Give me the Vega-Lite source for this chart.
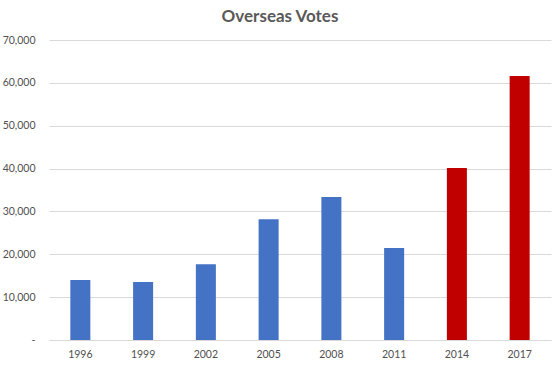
{
  "$schema": "https://vega.github.io/schema/vega-lite/v6.json",
  "autosize": {"type": "none"},
  "width": 502,
  "height": 300,
  "padding": {"left": 49, "top": 40, "right": 9, "bottom": 25},
  "background": "white",
  "title": {
    "text": "Overseas Votes",
    "font": "Lato",
    "fontSize": 17,
    "fontWeight": "bold",
    "color": "#595959",
    "anchor": "middle",
    "dx": -20,
    "offset": 9
  },
  "data": {
    "values": [
      {"year": "1996", "votes": 14000},
      {"year": "1999", "votes": 13530},
      {"year": "2002", "votes": 17680},
      {"year": "2005", "votes": 28150},
      {"year": "2008", "votes": 33370},
      {"year": "2011", "votes": 21470},
      {"year": "2014", "votes": 40150},
      {"year": "2017", "votes": 61600}
    ]
  },
  "mark": {"type": "bar"},
  "encoding": {
    "x": {
      "field": "year",
      "type": "ordinal",
      "sort": null,
      "scale": {"paddingInner": 0.681, "paddingOuter": 0.34},
      "axis": {
        "title": null,
        "labelAngle": 0,
        "labelFont": "Lato",
        "labelFontSize": 10.5,
        "labelColor": "#505050",
        "labelPadding": 9,
        "ticks": false,
        "domainColor": "#D9D9D9",
        "domainWidth": 1
      }
    },
    "y": {
      "field": "votes",
      "type": "quantitative",
      "scale": {"domain": [0, 70000], "nice": false},
      "axis": {
        "title": null,
        "values": [0, 10000, 20000, 30000, 40000, 50000, 60000, 70000],
        "labelExpr": "datum.value == 0 ? '-\u00a0\u00a0' : format(datum.value, ',')",
        "labelFont": "Lato",
        "labelFontSize": 10.5,
        "labelColor": "#505050",
        "labelPadding": 14,
        "ticks": false,
        "domain": false,
        "gridColor": "#D9D9D9",
        "gridWidth": 1
      }
    },
    "color": {
      "condition": {"test": "datum.year >= 2014", "value": "#C00000"},
      "value": "#4472C4"
    }
  },
  "config": {"view": {"stroke": null}}
}
